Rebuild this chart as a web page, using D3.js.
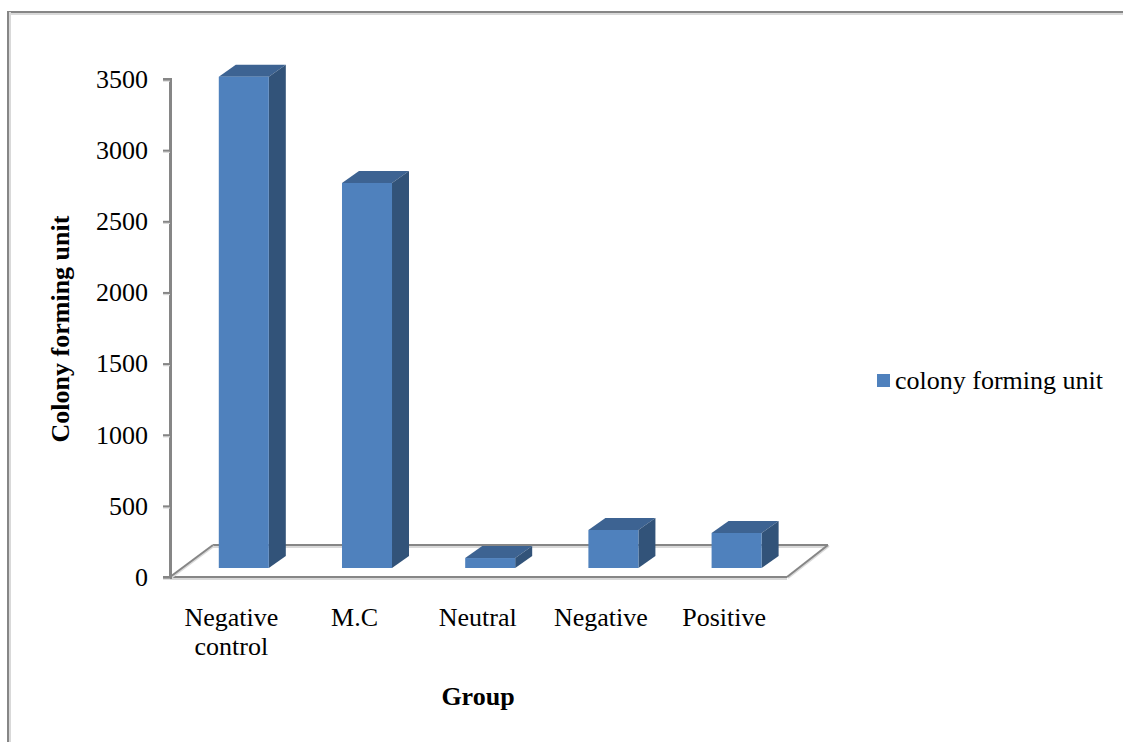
<!DOCTYPE html>
<html><head><meta charset="utf-8">
<script src="https://cdn.jsdelivr.net/npm/d3@7"></script>
<style>html,body{margin:0;padding:0;background:#fff}svg{display:block}text{font-family:"Liberation Serif",serif;fill:#000}</style>
</head><body><svg id="c" width="1123" height="742"></svg>
<script>
const categories=["Negative control","M.C","Neutral","Negative","Positive"];
const values=[3453,2706,70,267,246];
const tickValues=[0,500,1000,1500,2000,2500,3000,3500];
const seriesName="colony forming unit";
const xTitle="Group", yTitle="Colony forming unit";

const svg=d3.select("#c");
const axisY=d3.scaleLinear().domain([0,3500]).range([577,79]);
const barY=d3.scaleLinear().domain([0,3500]).range([568,70]);
const x=d3.scaleBand().domain(categories).range([182.2,798.2]).paddingInner(0.594).paddingOuter(0.297);
const dx=17,dy=12;
const lineC="#868686",shadowC="#d9d9d9";

function ln(x1,y1,x2,y2,c,w){svg.append("line").attr("x1",x1).attr("y1",y1).attr("x2",x2).attr("y2",y2).attr("stroke",c).attr("stroke-width",w);}
function both(x1,y1,x2,y2,sx,sy){ln(x1+sx,y1+sy,x2+sx,y2+sy,shadowC,2);ln(x1,y1,x2,y2,lineC,2);}

// frame
both(7,12,1123,12,0,2);both(8,12,8,742,2,0);
// floor
both(213,545,828,545,0,2);
both(170,577,787,577,0,2);
both(170,577,213,545,1,1);
both(787,577,828,545,1,1);
// y axis
const fmt=d3.format("d");
const ag=svg.append("g").attr("transform","translate(170,0)")
  .call(d3.axisLeft(axisY).tickValues(tickValues).tickSize(7).tickPadding(15).tickFormat(fmt));
ag.selectAll(".tick").each(function(){const t=d3.select(this).select("line");
  d3.select(this).insert("line","line").attr("x1",-7).attr("x2",0).attr("y1",1.5).attr("y2",1.5).attr("stroke",shadowC).attr("stroke-width",1.5);});
ag.select(".domain").attr("stroke",lineC).attr("stroke-width",3);
ag.selectAll(".tick line:not([y1])").attr("stroke",lineC).attr("stroke-width",2);
ag.selectAll(".tick text").style("font-family",'"Liberation Serif",serif').style("font-size","26px").attr("fill","#000").attr("dy","0.32em");

// bars
const bars=svg.append("g").selectAll("g").data(categories).join("g");
bars.each(function(c,i){
  const g=d3.select(this),l=x(c),w=x.bandwidth(),t=barY(values[i]),b=barY(0);
  g.append("path").attr("fill","#3d6392").attr("d",d3.line()([[l,t],[l+dx,t-dy],[l+w+dx,t-dy],[l+w,t]]));
  g.append("path").attr("fill","#325379").attr("d",d3.line()([[l+w,t],[l+w+dx,t-dy],[l+w+dx,b-dy],[l+w,b]]));
  g.append("rect").attr("x",l).attr("y",t).attr("width",w).attr("height",b-t).attr("fill","#4f81bd");
});

// category labels
const lab=svg.append("g").selectAll("text").data(categories).join("text")
  .attr("x",c=>x(c)+x.bandwidth()/2-12.5).attr("y",626).attr("text-anchor","middle").style("font-size","26px");
lab.each(function(c){
  const parts=c==="Negative control"?["Negative","control"]:[c];
  d3.select(this).selectAll("tspan").data(parts).join("tspan")
    .attr("x",d3.select(this).attr("x")).attr("dy",(d,i)=>i?29:0).text(d=>d);
});

// titles
svg.append("text").attr("x",478).attr("y",705).attr("text-anchor","middle").style("font-size","26px").style("font-weight","bold").text(xTitle);
svg.append("text").attr("transform","translate(69,329) rotate(-90)").attr("text-anchor","middle").style("font-size","26px").style("font-weight","bold").text(yTitle);

// legend
svg.append("rect").attr("x",877).attr("y",374).attr("width",13).attr("height",13).attr("fill","#4f81bd");
svg.append("text").attr("x",895).attr("y",389).style("font-size","26px").text(seriesName);
</script></body></html>
